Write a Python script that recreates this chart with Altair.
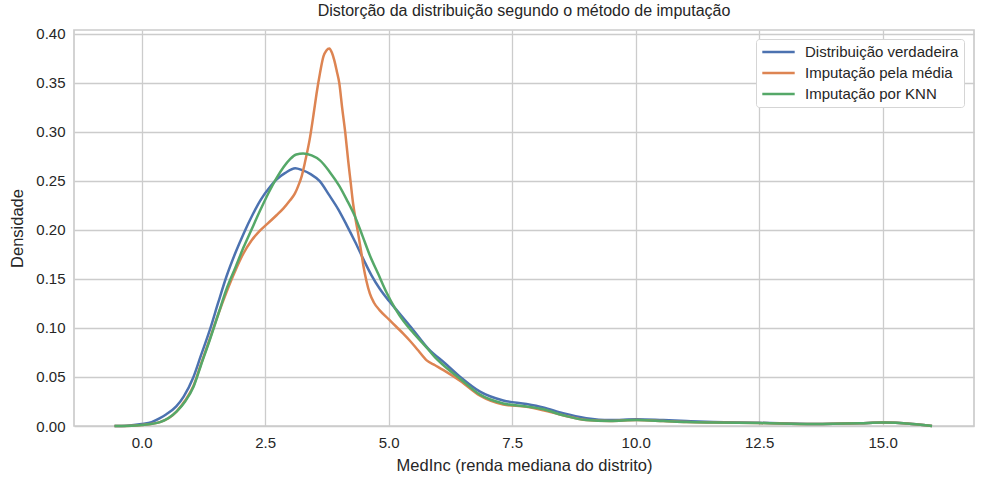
import altair as alt
import pandas as pd

series_names = ["Distribuição verdadeira", "Imputação pela média", "Imputação por KNN"]
series_colors = ["#4C72B0", "#DD8452", "#55A868"]

true_x = [-0.55, -0.3, 0.0, 0.2, 0.37, 0.5, 0.7, 0.85, 1.04, 1.2, 1.38, 1.55, 1.72, 1.9, 2.07,
          2.25, 2.4, 2.6, 2.74, 2.9, 3.11, 3.25, 3.42, 3.6, 3.79, 3.98, 4.15, 4.32, 4.49, 4.65,
          4.82, 5.0, 5.15, 5.47, 5.80, 6.14, 6.45, 6.85, 7.32, 7.79, 8.13, 8.53, 9.0, 9.48,
          10.02, 10.56, 11.03, 11.57, 12.49, 13.6, 14.54, 15.0, 15.6, 16.0]
true_y = [0.0, 0.0003, 0.002, 0.004, 0.008, 0.012, 0.020, 0.030, 0.049, 0.072, 0.098, 0.126,
          0.153, 0.177, 0.197, 0.216, 0.230, 0.244, 0.252, 0.258, 0.263, 0.261, 0.257, 0.250,
          0.236, 0.221, 0.205, 0.188, 0.170, 0.154, 0.140, 0.128, 0.119, 0.0997, 0.079, 0.064,
          0.050, 0.035, 0.026, 0.0225, 0.019, 0.013, 0.008, 0.006, 0.007, 0.006, 0.005, 0.004,
          0.0033, 0.002, 0.0028, 0.0035, 0.002, 0.0]

mean_x = [-0.55, -0.2, 0.0, 0.37, 0.71, 0.88, 1.05, 1.2, 1.38, 1.55, 1.72, 1.9, 2.06, 2.22,
          2.39, 2.56, 2.73, 2.87, 3.0, 3.1, 3.17, 3.24, 3.31, 3.41, 3.48, 3.54, 3.61, 3.68,
          3.74, 3.80, 3.85, 3.90, 3.95, 4.0, 4.06, 4.12, 4.18, 4.23, 4.28, 4.33, 4.38, 4.44,
          4.49, 4.55, 4.62, 4.7, 4.82, 5.0, 5.16, 5.3, 5.43, 5.6, 5.77, 5.94, 6.11, 6.45, 6.85,
          7.32, 7.79, 8.13, 8.53, 9.0, 9.48, 10.02, 10.56, 11.03, 11.57, 12.49, 13.6, 14.54,
          15.0, 15.6, 16.0]
mean_y = [0.0, 0.0003, 0.001, 0.004, 0.015, 0.026, 0.041, 0.063, 0.089, 0.114, 0.137, 0.159,
          0.176, 0.189, 0.199, 0.207, 0.215, 0.222, 0.230, 0.237, 0.245, 0.255, 0.270, 0.295,
          0.318, 0.339, 0.360, 0.377, 0.383, 0.385, 0.381, 0.373, 0.362, 0.350, 0.324, 0.300,
          0.271, 0.249, 0.227, 0.211, 0.197, 0.179, 0.163, 0.148, 0.135, 0.126, 0.118, 0.109,
          0.101, 0.094, 0.087, 0.077, 0.067, 0.062, 0.057, 0.046, 0.031, 0.022, 0.0195, 0.016,
          0.011, 0.006, 0.005, 0.006, 0.005, 0.004, 0.0035, 0.003, 0.002, 0.0028, 0.0035,
          0.002, 0.0]

knn_x = [-0.55, -0.2, 0.0, 0.37, 0.71, 0.88, 1.05, 1.2, 1.38, 1.55, 1.72, 1.9, 2.06, 2.22,
         2.39, 2.56, 2.73, 2.87, 3.0, 3.13, 3.27, 3.44, 3.61, 3.81, 4.0, 4.15, 4.32, 4.47,
         4.62, 4.79, 4.96, 5.13, 5.3, 5.5, 5.77, 5.94, 6.11, 6.45, 6.85, 7.32, 7.79, 8.13,
         8.53, 9.0, 9.48, 10.02, 10.56, 11.03, 11.57, 12.49, 13.6, 14.54, 15.0, 15.6, 16.0]
knn_y = [0.0, 0.0003, 0.001, 0.004, 0.015, 0.025, 0.040, 0.062, 0.088, 0.114, 0.140, 0.162,
         0.182, 0.200, 0.219, 0.237, 0.253, 0.264, 0.272, 0.277, 0.278, 0.276, 0.271, 0.259,
         0.245, 0.231, 0.2136, 0.194, 0.174, 0.155, 0.136, 0.120, 0.107, 0.095, 0.080,
         0.070, 0.062, 0.048, 0.032, 0.023, 0.020, 0.017, 0.011, 0.006, 0.005, 0.006, 0.005,
         0.004, 0.0035, 0.003, 0.002, 0.0028, 0.0035, 0.002, 0.0]

x_ticks = [0.0, 2.5, 5.0, 7.5, 10.0, 12.5, 15.0]
y_ticks = [0.0, 0.05, 0.10, 0.15, 0.20, 0.25, 0.30, 0.35, 0.40]

rows = []
for name, xs, ys in zip(series_names, [true_x, mean_x, knn_x], [true_y, mean_y, knn_y]):
    for i, (a, b) in enumerate(zip(xs, ys)):
        rows.append({"serie": name, "x": a, "y": b, "i": i})
df = pd.DataFrame(rows)

FONT = "Liberation Sans"
TXT = "#262626"

chart = alt.Chart(df).mark_line(strokeWidth=2.5, interpolate="monotone").encode(
    x=alt.X("x:Q",
            scale=alt.Scale(domain=[-1.37, 16.85], nice=False, zero=False),
            axis=alt.Axis(values=x_ticks, format=".1f", title="MedInc (renda mediana do distrito)")),
    y=alt.Y("y:Q",
            scale=alt.Scale(domain=[0, 0.404], nice=False),
            axis=alt.Axis(values=y_ticks, format=".2f", title="Densidade")),
    color=alt.Color("serie:N",
                    scale=alt.Scale(domain=series_names, range=series_colors),
                    legend=alt.Legend(title=None, orient="none", legendX=682, legendY=9,
                                      symbolType="stroke", symbolSize=1050, symbolStrokeWidth=2.5,
                                      clipHeight=16, rowPadding=5, padding=5,
                                      labelFontSize=15, labelFont=FONT, labelColor=TXT,
                                      fillColor="white", strokeColor="#d5d5d5",
                                      cornerRadius=3, labelOffset=9)),
    order="i:Q",
).properties(
    width=900,
    height=396,
    title=alt.Title("Distorção da distribuição segundo o método de imputação",
                    fontSize=16, font=FONT, color=TXT, fontWeight="normal", offset=8),
    autosize=alt.AutoSizeParams(type="none"),
    padding={"left": 74, "top": 30, "right": 10, "bottom": 58},
    background="white",
).configure_view(
    stroke="#cccccc", strokeWidth=1.7
).configure_axis(
    grid=True, gridColor="#cccccc", gridWidth=1.3,
    domain=False, ticks=False,
    labelFont=FONT, labelFontSize=15, labelColor=TXT, labelPadding=9,
    titleFont=FONT, titleFontSize=16.5, titleColor=TXT, titleFontWeight="normal",
).configure_axisX(
    titlePadding=7
).configure_axisY(
    titlePadding=10
)

chart.save("out.html", embed_options={"renderer": "svg", "actions": False})
